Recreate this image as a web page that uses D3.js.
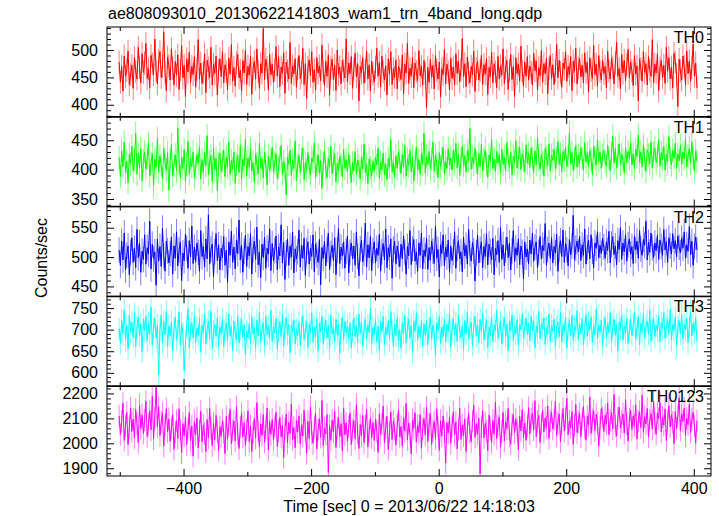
<!DOCTYPE html>
<html><head><meta charset="utf-8">
<script src="https://cdn.jsdelivr.net/npm/d3@7"></script>
<style>
body{margin:0;background:#fff}
text{font-family:"Liberation Sans",Arial,Helvetica,sans-serif;fill:#000}
</style>
</head><body>
<svg id="c" width="719" height="516"></svg>
<script>
const chartTitle = "ae808093010_20130622141803_wam1_trn_4band_long.qdp";
const xLabel = "Time [sec] 0 = 2013/06/22 14:18:03";
const yLabel = "Counts/sec";
const panelNames = ["TH0","TH1","TH2","TH3","TH0123"];
const panelColors = ["#ff0000","#00ff00","#0000ff","#00ffff","#ff00ff"];
const timeStart = -501, timeEnd = 405;
const xDomain = [-520, 427];
const xMajorTicks = [-400,-200,0,200,400];
const xMinorTicks = [-500,-300,-100,100,300];
const yDomains = [[378,542],[337,490],[433,586],[569,777],[1869,2229]];
const yMajorTicks = [[400,450,500],[350,400,450],[450,500,550],[600,650,700,750],[1900,2000,2100,2200]];
const yMinorSteps = [10,10,10,10,20];
const seriesErrors = [21,20,22,26,45];

const th0 = [
478,441,470,425,489,452,463,498,437,455,472,430,486,461,447,505,468,440,493,459,
476,512,448,466,431,490,474,455,520,462,438,481,497,450,469,533,458,426,487,471,
445,502,467,436,479,454,491,428,463,508,449,472,415,484,460,496,441,470,455,488,
432,465,519,447,476,439,458,493,422,481,467,450,505,436,474,457,489,418,462,484,
451,497,440,473,461,428,485,456,510,443,468,434,477,492,449,463,425,481,458,499,
437,470,454,488,419,466,479,447,502,461,430,475,458,539,446,483,468,427,492,455,
474,441,463,506,452,488,433,469,457,495,421,478,462,447,514,439,471,456,484,432,
466,490,448,459,503,437,475,412,468,482,453,497,441,464,427,486,458,471,444,509,
460,435,479,452,491,418,467,483,446,472,426,500,455,469,438,481,463,449,520,442,
476,457,488,430,465,494,451,475,407,470,458,486,439,462,498,447,473,425,480,456,
441,468,503,452,477,433,489,460,445,471,418,484,456,497,437,466,450,482,429,470,
463,446,491,420,474,458,512,439,467,452,486,431,476,461,444,499,453,470,436,481,
457,395,468,441,483,450,472,429,490,463,447,478,414,466,455,501,438,474,460,427,
485,448,469,436,493,457,480,442,464,521,451,475,433,487,458,440,470,455,498,424,
466,479,445,462,490,437,473,456,484,419,468,451,496,440,475,460,431,488,447,471,
454,502,439,467,481,428,463,492,446,470,415,486,457,474,443,507,461,434,478,452,
488,445,471,459,436,494,462,480,427,468,453,499,441,475,457,485,420,466,490,448,
473,437,462,510,449,481,458,432,476,465,497,443,470,455,488,426,479,461,503,438,
467,484,451,472,440,495,459,477,423,486,463,448,509,455,474,434,490,461,445,482,
457,470,431,498,462,447,485,469,438,476,514,452,466,429,492,458,481,444,473,501,
449,478,462,435,490,456,471,407,484,466,443,497,459,475,436,488,463,452,519,440,
474,458,493,426,467,481,450,472,439,505,461,486,447,469,431,494,478,455,397,483,
462,445,489,470,436,498,457,480,443,468,511,452,476,431];

const th1 = [
421,388,432,405,447,395,414,378,426,409,440,398,417,462,392,428,403,436,381,415,
430,401,419,445,389,411,427,372,418,404,453,396,423,408,384,437,412,399,429,365,
416,443,390,407,425,398,471,413,386,421,402,434,379,410,448,393,419,405,430,387,
402,426,411,439,384,417,395,429,406,458,391,413,424,380,437,400,419,364,410,428,
397,414,433,388,421,405,447,392,416,401,430,377,409,424,395,441,383,418,406,452,
389,420,404,436,398,412,379,427,410,393,445,402,418,386,430,408,374,423,399,415,
438,396,411,427,385,403,419,441,392,414,401,357,421,409,433,390,416,402,449,381,
407,424,395,418,437,383,412,399,429,404,391,420,413,446,387,406,425,394,415,368,
410,432,401,386,419,405,440,393,414,427,379,411,398,423,408,388,435,402,417,396,
426,405,378,412,398,431,392,416,407,384,422,401,443,395,409,376,418,403,389,414,
399,421,408,437,385,413,400,428,391,410,383,419,405,451,396,412,387,424,402,430,
415,393,426,404,441,389,418,407,433,396,422,380,411,439,400,417,392,427,409,462,
394,423,408,431,401,418,447,397,425,411,386,429,405,419,438,393,414,402,436,408,
420,399,434,412,445,403,427,390,416,440,407,424,396,432,415,470,401,421,409,437,
413,392,428,405,443,398,419,433,410,387,425,414,452,402,418,397,431,411,426,394,
435,409,421,398,446,416,404,430,391,423,412,449,403,420,438,400,427,415,397,442,
411,428,404,437,419,395,432,408,455,417,401,426,412,389,436,421,407,444,398,425,
416,434,402,420,448,409,427,396,431,415,439,405,422,463,410,429,399,418,441,404,
425,410,437,419,399,446,413,428,405,433,418,392,440,421,408,452,415,430,402,424,
433,414,406,441,420,398,428,457,411,436,403,423,444,409,426,417,394,438,412,431,
419,446,408,427,401,435,422,459,413,430,405,442,418,397,434,425,410,447,403,428,
437,412,424,451,406,429,417,440,399,426,414,456,421,408,433,419,445,402,427,415,
441,409,430,418,453,405,423,436,411,447,420,398,432,414];

const th2 = [
512,486,527,495,541,478,503,519,470,508,533,491,515,482,547,499,524,474,510,496,
538,488,516,505,561,480,522,497,509,452,531,493,518,484,549,502,476,527,511,490,
506,534,471,519,498,543,485,512,526,460,507,494,539,515,481,528,500,553,489,517,
492,524,508,476,545,501,518,483,531,497,572,488,513,522,467,509,540,494,521,478,
515,499,535,486,512,457,526,503,544,491,517,480,529,506,563,495,520,474,510,537,
484,518,502,540,471,513,527,496,551,487,508,465,522,499,534,481,515,505,548,477,
523,494,511,536,479,517,502,555,490,525,462,507,531,486,519,500,542,473,514,497,
509,546,483,520,498,532,469,511,526,488,515,501,538,475,522,504,491,530,453,516,
498,527,485,513,541,479,506,520,494,533,470,512,549,489,517,502,526,481,510,536,
473,508,524,497,519,486,543,501,468,514,529,492,507,558,483,521,499,535,477,511,
526,490,515,503,539,476,509,523,495,548,482,516,500,531,464,513,527,488,519,505,
484,522,497,536,508,471,518,502,545,487,514,530,493,509,476,524,503,541,480,512,
501,532,479,516,495,527,510,489,552,498,513,466,521,506,538,485,517,500,529,474,
519,494,508,543,481,515,528,497,509,475,534,502,520,488,547,506,493,525,511,459,
507,537,490,513,526,482,518,501,540,487,522,509,495,532,470,515,504,528,491,550,
496,521,485,512,534,499,524,478,510,545,492,516,503,531,487,519,508,463,526,500,
514,488,529,505,541,493,517,526,482,508,535,497,520,511,557,486,513,524,498,533,
490,518,507,539,476,514,528,501,546,491,523,512,485,530,504,519,571,496,515,527,
509,535,494,521,503,548,488,516,529,497,538,510,482,524,515,543,499,520,506,532,
517,498,526,511,544,490,522,535,504,519,487,528,513,550,496,524,509,538,493,521,
531,505,518,489,536,512,527,498,545,514,503,530,520,561,495,525,508,541,516,499,
524,511,537,496,529,518,503,547,512,526,491,533,519,505,540,514,528,500,536,517,
507,532,515,543,498,521,510,552,504,527,486,518,534,512];

const th3 = [
702,668,721,690,745,676,709,655,733,694,717,682,738,661,706,728,687,713,649,724,
697,731,673,715,690,752,665,704,726,681,711,596,699,734,670,719,688,742,660,708,
685,718,652,703,729,677,696,741,664,714,690,604,673,707,748,658,699,716,681,733,
670,704,687,725,648,710,693,737,667,701,719,679,744,656,695,712,684,728,662,706,
691,723,660,699,715,674,738,686,707,651,720,694,676,733,669,702,725,683,711,642,
697,681,714,668,729,690,705,657,722,685,740,672,700,716,663,731,688,709,679,745,
673,707,692,726,655,698,719,684,735,662,703,727,689,713,646,710,694,723,667,701,
686,718,663,704,732,677,697,720,659,712,691,739,671,706,683,726,650,715,695,731,
666,700,722,681,710,656,734,690,705,673,724,687,713,645,702,728,676,719,693,708,
680,715,658,697,727,684,709,670,736,691,717,662,703,723,678,711,694,749,667,705,
689,724,672,708,652,718,695,731,664,706,688,721,676,742,698,661,713,686,728,674,
700,657,716,691,733,669,704,725,681,710,647,719,696,737,675,707,683,722,662,714,
687,720,665,703,728,679,711,693,640,716,699,732,668,706,684,725,671,712,695,738,
660,701,726,688,714,673,735,697,682,709,654,721,690,741,678,703,717,664,708,731,
685,712,669,724,694,739,676,701,721,658,706,688,730,672,711,697,745,680,703,719,
667,706,729,684,713,651,719,698,734,675,708,690,723,663,712,700,737,681,702,726,
688,715,674,731,697,720,658,709,692,743,679,714,701,727,666,705,689,736,672,710,
696,724,661,707,718,683,740,671,712,694,729,657,703,721,686,733,675,709,698,744,
677,713,690,726,665,702,735,684,716,699,730,670,708,688,747,679,711,695,722,663,
705,728,682,714,693,739,671,706,724,687,712,650,718,701,734,676,709,692,727,668,
699,723,686,711,741,677,704,730,665,715,694,737,681,708,720,689,745,673,702,726,
684,710,697,732,671,716,703,739,680,707,724,691,746,676,713,698,729,662,705,721,
690,735,678,712,700,727,669,708,742,686,715,694,728,673];

const th0123 = [
2110,2035,2088,2160,2012,2071,2124,1995,2063,2142,2048,2097,2021,2135,2080,2003,2152,2059,2114,2040,
2093,2168,2027,2076,2131,2054,2189,2018,2102,2225,2066,2147,2031,2085,2120,1988,2073,2139,2046,2098,
2008,2062,2115,1976,2044,2091,2019,2138,2053,1962,2079,2030,2106,1995,2057,2124,2011,2069,1948,2087,
2034,2102,1981,2050,2128,2006,2073,2039,1967,2095,2022,2140,2058,1990,2081,2015,2112,2047,1972,2066,
2028,2091,2043,1959,2108,2017,2074,2136,1998,2052,2089,2010,2147,2038,1979,2066,2119,2025,2083,1992,
2055,2130,2007,2071,1966,2044,2099,2021,2163,2048,1985,2078,2032,2115,2004,2061,2142,1973,2087,2036,
2096,2013,2068,2125,1988,2049,2104,2026,2071,1943,2058,2117,2001,2084,2039,2158,2016,2063,1982,2092,
2045,2110,1997,2074,2029,2133,2052,1960,2088,2019,2146,2041,2000,2065,2122,1977,2057,2098,2024,2171,
1991,2060,2037,2115,1883,2070,2012,2093,2046,2128,1984,2061,2103,2027,2079,1969,2140,2034,2082,2008,
2067,2121,1995,2054,2090,2018,2156,2040,1979,2075,2031,2112,2003,2069,2137,1986,2048,2101,2022,2083,
2011,2095,2050,1964,2118,2036,2077,2149,2002,2063,2108,1975,2044,2126,2015,2089,2056,1993,2072,2134,
2026,2067,1989,2103,2049,2160,2014,2081,2038,1958,2094,2060,2123,2005,2071,2042,2115,1980,2058,2099,
2033,2145,2007,2076,2120,1996,2052,2087,2019,2138,2064,1972,2091,2029,2110,2047,1921,2083,2041,2106,
2000,2069,2127,2034,2085,1978,2056,2142,2016,2074,2031,2098,1967,2061,2119,2043,2007,2088,2153,2024,
2078,2036,2101,1878,2066,2131,2022,2080,2049,1970,2113,2058,2004,2092,2037,2165,2019,2071,2105,1985,
2047,2124,2010,2086,2059,2140,2028,1997,2075,2117,2041,2096,2062,1974,2108,2050,2135,2023,2082,2012,
2069,2143,2038,2097,2121,2054,2171,2027,2088,2112,2003,2079,2134,2046,2102,2065,2150,2020,2091,2125,
2057,2094,2168,2031,2083,2118,2007,2076,2139,2049,2101,2180,2035,2090,2061,2127,1996,2072,2156,2043,
2085,2120,2026,2099,2147,2064,2012,2108,2073,2186,2040,2095,2131,2051,2116,2082,1990,2066,2139,2104,
2048,2113,2077,2162,2034,2092,2123,2058,2196,2070,2029,2101,2145,2062,2087,2118,2041,2175,2080,2009,
2097,2132,2055,2110,2071,2154,2018,2089,2126,2063,2193,2044,2106,2078,2140,2025,2093,2119,2057,2167,
2081,2036,2122,2099,2164,2047,2105,2073,2138,2011,2090,2151,2066,2115,2084,1999,2128,2060,2109,2183,
2052,2117,2088,2142,2030,2100,2075,2157,2043,2096,2124,2069,2002,2091];

const allSeries = [th0, th1, th2, th3, th0123];

const svg = d3.select("#c");
const L = 107, R = 711, T = 27, B = 476;
const ph = (B - T) / 5;
const x = d3.scaleLinear().domain(xDomain).range([L, R]);
const FS = 16;

// title
svg.append("text").attr("x", 108).attr("y", 19).attr("font-size", FS).text(chartTitle);

const defs = svg.append("defs");

allSeries.forEach((vals, i) => {
  const y0 = T + i * ph, y1 = y0 + ph;
  const y = d3.scaleLinear().domain(yDomains[i]).range([y1, y0]);
  const n = vals.length;
  const tstep = (timeEnd - timeStart) / (n - 1);
  const pts = vals.map((v, k) => ({t: timeStart + k * tstep, v}));
  const err = seriesErrors[i];

  defs.append("clipPath").attr("id", "clip" + i)
    .append("rect").attr("x", L).attr("y", y0).attr("width", R - L).attr("height", ph);

  const g = svg.append("g").attr("clip-path", "url(#clip" + i + ")");
  // error bars
  g.append("path")
    .attr("d", pts.map(p => `M${x(p.t).toFixed(2)},${y(p.v - err).toFixed(2)}V${y(p.v + err).toFixed(2)}`).join(""))
    .attr("stroke", panelColors[i]).attr("stroke-opacity", 0.5).attr("stroke-width", 1).attr("fill", "none");
  // connecting line
  g.append("path")
    .attr("d", d3.line().x(p => x(p.t)).y(p => y(p.v))(pts))
    .attr("stroke", panelColors[i]).attr("stroke-width", 1).attr("fill", "none");

  // y ticks: minor
  const [d0, d1] = yDomains[i];
  const step = yMinorSteps[i];
  const minors = d3.range(Math.ceil(d0 / step) * step, d1 + 0.001, step)
    .filter(v => !yMajorTicks[i].includes(v));
  const axG = svg.append("g");
  axG.append("g").attr("transform", `translate(${L},0)`)
    .call(d3.axisLeft(y).tickValues(minors).tickSize(-4).tickFormat(""));
  axG.append("g").attr("transform", `translate(${R},0)`)
    .call(d3.axisRight(y).tickValues(minors).tickSize(-4).tickFormat(""));
  axG.append("g").attr("transform", `translate(${R},0)`)
    .call(d3.axisRight(y).tickValues(yMajorTicks[i]).tickSize(-7).tickFormat(""));
  axG.append("g").attr("transform", `translate(${L},0)`)
    .call(d3.axisLeft(y).tickValues(yMajorTicks[i]).tickSize(-7).tickPadding(9).tickFormat(d3.format("d")));
  // x ticks top (inward = down) and bottom (inward = up)
  axG.append("g").attr("transform", `translate(0,${y0})`)
    .call(d3.axisBottom(x).tickValues(xMajorTicks).tickSize(7).tickFormat(""));
  axG.append("g").attr("transform", `translate(0,${y0})`)
    .call(d3.axisBottom(x).tickValues(xMinorTicks).tickSize(4).tickFormat(""));
  axG.append("g").attr("transform", `translate(0,${y1})`)
    .call(d3.axisBottom(x).tickValues(xMinorTicks).tickSize(-4).tickFormat(""));
  axG.append("g").attr("transform", `translate(0,${y1})`)
    .call(d3.axisBottom(x).tickValues(xMajorTicks).tickSize(-7).tickPadding(7)
      .tickFormat(i === 4 ? d3.format("d") : ""));
  axG.selectAll(".domain").remove();
  axG.selectAll("line").attr("stroke", "#000");
  axG.selectAll("text").attr("font-size", FS).attr("font-family", '"Liberation Sans",Arial,sans-serif').attr("fill", "#000");

  // frame
  svg.append("rect").attr("x", L).attr("y", y0).attr("width", R - L).attr("height", ph)
    .attr("fill", "none").attr("stroke", "#000").attr("stroke-width", 1);

  // panel name
  svg.append("text").attr("x", 704).attr("y", y0 + 16).attr("text-anchor", "end")
    .attr("font-size", FS).text(panelNames[i]);
});

// separators a bit heavier
for (let i = 1; i < 5; i++) {
  svg.append("line").attr("x1", L).attr("x2", R).attr("y1", T + i * ph).attr("y2", T + i * ph)
    .attr("stroke", "#000").attr("stroke-width", 1.5);
}

svg.append("text").attr("x", (L + R) / 2).attr("y", 512).attr("text-anchor", "middle")
  .attr("font-size", FS).text(xLabel);
svg.append("text").attr("transform", "translate(47,258) rotate(-90)").attr("text-anchor", "middle")
  .attr("font-size", FS).text(yLabel);
</script>
</body></html>
